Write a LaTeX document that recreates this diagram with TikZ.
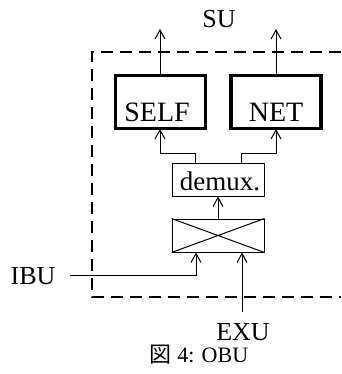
\documentclass[tikz,border=0pt]{standalone}
\usepackage{fontspec}
\setmainfont{Liberation Serif}
\newfontfamily\jpfont{Noto Sans CJK JP}
\usetikzlibrary{arrows.meta}
\begin{document}
\begin{tikzpicture}[x=1pt,y=-1pt,
  wire/.style={line width=1pt},
  flow/.style={wire,-{Straight Barb[length=9pt,width=10pt,line width=1pt]}},
  unitbox/.style={draw,line width=3.4pt,minimum width=90pt,minimum height=53pt,inner sep=0pt},
  plainbox/.style={draw,line width=1pt,inner sep=0pt},
  lbl/.style={font=\fontsize{28}{32}\selectfont,inner sep=0pt}]
\useasboundingbox (0,0) rectangle (341,374);
% dashed enclosure
\draw[line width=1.4pt,dash pattern=on 12pt off 7pt] (341,52) -- (92,52) -- (92,297) -- (341,297);
% units
\node[unitbox] (self) at (160.5,102) {};
\node[unitbox] (net)  at (276,102) {};
\node[lbl,anchor=base] at (157,122) {SELF};
\node[lbl,anchor=base] at (276,122) {NET};
\node[plainbox,minimum width=92pt,minimum height=33pt] (demux) at (218,179.5) {};
\node[lbl,anchor=base,font=\fontsize{27}{31}\selectfont] at (220,190) {demux.};
\node[plainbox,minimum width=92pt,minimum height=33pt] (cross) at (218,235.5) {};
\draw[wire] (cross.north west) -- (cross.south east) (cross.south west) -- (cross.north east);
% labels
\node[lbl,font=\fontsize{26}{30}\selectfont] (su) at (219,19) {SU};
\node[lbl,font=\fontsize{26}{30}\selectfont] (ibu) at (33,276) {IBU};
\node[lbl,font=\fontsize{26}{30}\selectfont] (exu) at (243,332) {EXU};
\node[inner sep=0pt,font=\fontsize{22}{26}\selectfont] (cap) at (199,355) {{\jpfont 図} 4: OBU};
% outputs
\coordinate (outs) at (160,29);
\coordinate (outn) at (276,29);
\draw[flow] (self.north -| outs) -- (outs);
\draw[flow] (net.north -| outn) -- (outn);
% demux to units
\draw[flow] ([xshift=-23pt]demux.north) |- (160,153) -- (160,129);
\draw[flow] ([xshift=23pt]demux.north) |- (276,153) -- (276,129);
% switch to demux
\draw[flow] (cross.north) -- (demux.south);
% inputs
\coordinate (ibuend) at (70,275);
\coordinate (exuend) at (242,312);
\draw[flow] (ibuend) -| ([xshift=-22pt]cross.south);
\draw[flow] (exuend) -- (exuend |- cross.south);
\end{tikzpicture}
\end{document}
